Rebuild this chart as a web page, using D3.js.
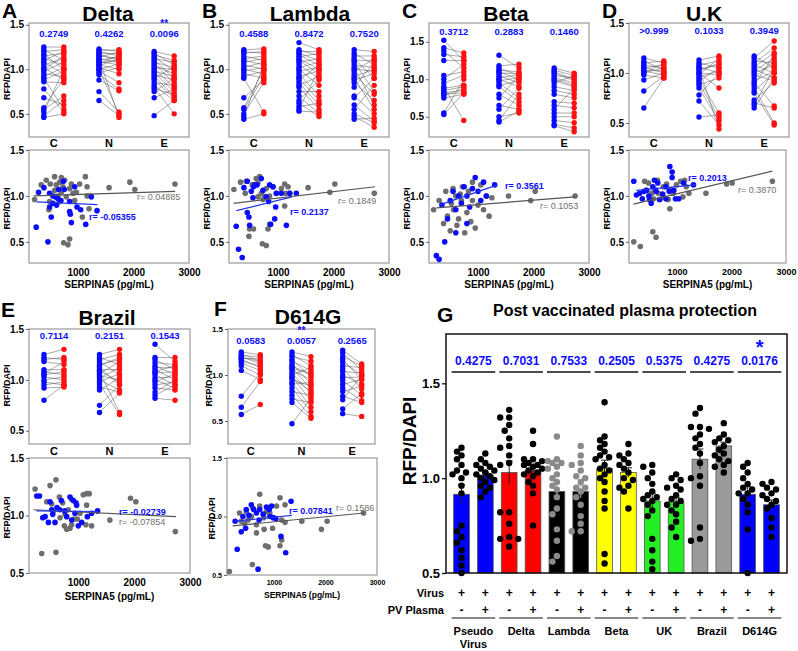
<!DOCTYPE html>
<html><head><meta charset="utf-8">
<script src="https://cdn.jsdelivr.net/npm/d3@7"></script>
<style>body{margin:0;background:#fff}text{font-family:"Liberation Sans",Arial,sans-serif}</style>
</head><body><svg id="c" width="798" height="651"></svg>
<script>
// ---------------- DATA ----------------
const cats = ["C","N","E"];
// paired [blue, red] values per category
const deltaC = [[1.25,1.25],[1.22,1.1],[1.2,1.22],[1.17,1.0],[1.15,1.18],[1.12,1.05],[1.1,1.2],[1.08,0.95],[1.05,1.12],[1.02,0.88],[1.0,1.15],[0.98,1.08],[0.95,0.92],[0.92,1.02],[0.9,0.55],[0.88,0.98],[0.86,0.85],[0.78,0.52],[0.68,0.6],[0.57,0.9],[0.55,0.7],[0.52,1.0],[0.48,0.65],[0.46,0.5]];
const deltaN = [[1.23,1.2],[1.21,1.22],[1.2,1.15],[1.18,1.18],[1.17,1.1],[1.15,1.12],[1.14,1.19],[1.12,1.08],[1.1,1.14],[1.09,1.05],[1.07,1.1],[1.05,1.0],[1.04,1.12],[1.02,0.95],[1.0,1.06],[0.98,0.85],[0.96,1.02],[0.94,0.78],[0.88,0.76],[0.75,0.52],[0.65,0.48],[1.12,0.46],[1.06,1.16],[1.0,0.5]];
const deltaE = [[1.2,1.15],[1.18,1.05],[1.16,1.1],[1.14,0.98],[1.12,1.08],[1.1,0.9],[1.08,1.02],[1.06,0.85],[1.04,0.95],[1.02,1.0],[1.0,0.8],[0.98,0.92],[0.96,0.75],[0.94,0.88],[0.92,0.7],[0.9,1.03],[0.88,0.68],[0.85,0.82],[0.82,0.65],[0.78,0.72],[0.75,0.9],[0.68,0.78],[0.48,0.65],[0.8,0.5]];
const lambdaC = [[1.22,1.23],[1.2,1.18],[1.18,1.2],[1.15,1.1],[1.12,1.15],[1.1,1.05],[1.08,1.12],[1.05,1.0],[1.02,1.08],[1.0,0.95],[0.98,1.02],[0.95,0.9],[0.92,0.98],[0.9,0.52],[0.68,0.88],[0.57,1.0],[0.55,0.92],[0.5,0.85],[0.47,1.05],[0.44,0.5]];
const lambdaN = [[1.3,1.22],[1.22,1.15],[1.2,1.2],[1.18,1.1],[1.16,1.05],[1.14,1.18],[1.12,1.0],[1.1,0.95],[1.08,1.12],[1.05,0.9],[1.02,1.08],[1.0,0.82],[0.98,1.02],[0.95,0.7],[0.92,0.98],[0.9,0.65],[0.88,1.05],[0.85,0.6],[0.82,0.92],[0.8,0.55],[0.75,0.75],[0.7,0.5],[0.65,0.88],[0.62,0.47],[0.58,0.62],[0.55,1.0],[0.53,0.52]];
const lambdaE = [[1.22,1.2],[1.18,1.05],[1.15,1.15],[1.12,0.9],[1.1,1.1],[1.08,0.75],[1.05,1.02],[1.02,0.6],[1.0,0.98],[0.98,1.12],[0.95,0.72],[0.92,1.0],[0.9,0.55],[0.88,0.95],[0.85,0.65],[0.8,1.08],[0.7,0.5],[0.68,0.9],[0.6,0.42],[0.55,0.82],[0.5,0.4],[0.47,0.35],[0.44,0.45]];
const betaC = [[1.52,1.25],[1.42,1.35],[1.38,1.15],[1.33,1.3],[1.25,1.25],[1.05,1.1],[1.0,1.2],[0.95,1.05],[0.88,0.92],[0.85,0.9],[0.82,0.85],[0.8,0.82],[0.78,0.88],[0.75,0.8],[0.55,1.0],[0.53,0.82],[0.9,0.45]];
const betaN = [[1.32,1.15],[1.18,1.2],[1.15,1.05],[1.12,1.1],[1.1,1.0],[1.08,1.08],[1.05,0.95],[1.02,1.06],[1.0,0.9],[0.98,1.02],[0.95,0.75],[0.92,0.98],[0.9,0.7],[0.8,0.65],[0.75,1.05],[0.65,0.6],[0.6,0.88],[0.5,0.55],[0.45,0.8],[0.43,0.58]];
const betaE = [[1.15,1.08],[1.12,1.05],[1.1,1.0],[1.08,0.98],[1.05,1.02],[1.02,0.95],[1.0,0.92],[0.98,0.9],[0.95,1.05],[0.9,0.85],[0.85,0.8],[0.8,0.75],[0.7,0.68],[0.65,0.62],[0.6,0.88],[0.55,0.55],[0.5,0.5],[0.45,0.42],[0.4,0.35],[0.38,0.3]];
const ukC = [[1.15,1.1],[1.1,1.12],[1.08,1.05],[1.06,1.0],[1.05,1.08],[1.03,1.02],[1.02,0.98],[1.0,1.05],[0.98,0.95],[0.93,1.0],[0.82,0.97],[0.65,0.95],[1.12,1.03],[1.0,1.1]];
const ukN = [[1.13,1.17],[1.1,1.05],[1.08,1.12],[1.06,1.0],[1.04,1.08],[1.02,1.1],[1.0,0.98],[0.98,1.15],[0.96,1.02],[0.94,0.6],[0.92,1.05],[0.9,0.55],[0.88,0.95],[0.85,0.52],[0.78,1.0],[0.72,0.48],[0.56,0.58],[1.05,0.44],[1.0,0.85]];
const ukE = [[1.17,1.05],[1.15,1.32],[1.12,1.1],[1.1,1.25],[1.08,1.0],[1.06,1.2],[1.04,0.95],[1.02,1.15],[1.0,1.08],[0.98,0.92],[0.95,1.12],[0.92,1.02],[0.9,0.67],[0.88,1.18],[0.85,0.5],[0.82,1.0],[0.8,0.48],[0.73,0.9],[0.7,0.65],[0.68,1.05],[0.65,0.95]];
const brazilC = [[1.25,1.3],[1.22,1.2],[1.2,1.22],[1.18,1.15],[1.1,1.1],[1.08,1.05],[1.05,1.08],[1.03,1.0],[1.0,1.03],[0.98,0.95],[0.95,0.98],[0.92,0.93],[0.8,0.95],[1.06,1.18]];
const brazilN = [[1.25,1.3],[1.22,1.15],[1.2,1.25],[1.18,1.05],[1.15,1.2],[1.12,0.95],[1.1,1.1],[1.08,0.68],[1.06,1.18],[1.04,1.0],[1.02,1.12],[1.0,0.9],[0.98,1.06],[0.96,0.66],[0.93,0.88],[0.9,1.02],[0.75,0.95],[0.68,0.87],[1.14,1.22],[1.09,0.98]];
const brazilE = [[1.35,1.18],[1.22,1.22],[1.2,1.1],[1.17,1.15],[1.14,1.05],[1.12,1.12],[1.1,1.0],[1.07,1.08],[1.05,0.95],[1.02,1.03],[1.0,0.92],[0.98,1.06],[0.95,0.98],[0.92,0.9],[0.88,1.0],[0.85,0.95],[0.82,0.8],[1.08,1.14]];
const d614gC = [[1.25,1.22],[1.23,1.15],[1.21,1.2],[1.2,1.12],[1.18,1.18],[1.17,1.08],[1.15,1.1],[1.13,1.05],[1.1,1.0],[1.05,0.95],[0.77,1.02],[0.65,0.93],[0.57,0.68],[1.19,1.15]];
const d614gN = [[1.25,1.2],[1.22,1.1],[1.2,1.15],[1.17,0.98],[1.15,1.05],[1.12,0.9],[1.1,1.0],[1.08,0.85],[1.05,0.95],[1.02,0.8],[1.0,1.08],[0.98,0.72],[0.95,0.88],[0.92,0.65],[0.9,0.92],[0.86,0.6],[0.82,0.78],[0.78,0.55],[0.74,0.7],[0.7,0.53],[0.47,0.75],[1.07,1.02],[0.97,0.82]];
const d614gE = [[1.27,1.12],[1.24,1.05],[1.2,1.1],[1.17,0.95],[1.14,1.0],[1.1,1.08],[1.07,0.85],[1.04,1.02],[1.0,0.9],[0.97,0.98],[0.94,0.78],[0.9,0.95],[0.86,0.72],[0.82,0.88],[0.77,0.7],[0.73,1.0],[0.63,0.8],[0.58,0.55]];
const pDelta = ["0.2749","0.4262","0.0096"], sDelta = ["","","**"];
const pLambda = ["0.4588","0.8472","0.7520"];
const pBeta = ["0.3712","0.2883","0.1460"];
const pUK = [">0.999","0.1033","0.3949"];
const pBrazil = ["0.7114","0.2151","0.1543"];
const pD614G = ["0.0583","0.0057","0.2565"], sD614G = ["","**",""];

// scatter: SERPINA5 (pg/mL) vs RFP/DAPI ; grey and blue sets, fitted lines, r values
const deltaGray = [[217,0.96],[337,1.12],[428,1.17],[476,0.85],[488,0.94],[500,1.13],[578,1.21],[608,1.12],[669,1.15],[699,1.2],[729,1.1],[759,1.17],[741,0.49],[819,0.47],[849,0.53],[910,1.03],[940,0.95],[970,1.04],[1078,0.77],[1133,1.21],[1163,1.1],[1163,1.0],[1199,0.86],[1229,1.0],[1560,1.09],[1934,1.15],[2024,1.07],[2747,1.13],[639,1.0],[669,0.94],[789,0.99],[880,1.13],[578,1.06],[849,1.08],[1030,1.13],[699,1.04]];
const deltaBlue = [[247,0.66],[289,1.04],[386,1.09],[458,0.5],[488,0.88],[518,0.77],[548,0.92],[590,0.99],[614,0.9],[651,1.07],[693,0.95],[735,1.16],[753,1.07],[849,0.94],[849,0.83],[861,0.8],[880,0.71],[940,1.1],[982,0.88],[1048,0.85],[1139,0.69],[1343,0.84],[1241,0.99],[548,1.0],[488,1.03],[639,0.97]];
const deltaFit = [[[200,1.0],[2750,1.05]],[[250,0.935],[1350,0.905]]], deltaR = ["0.04885","-0.05355"];
const lambdaGray = [[205,1.07],[325,1.15],[410,1.03],[488,0.64],[476,0.56],[560,0.64],[536,1.12],[608,1.19],[669,1.21],[639,1.14],[699,1.03],[717,0.48],[789,0.46],[819,0.64],[849,0.69],[759,0.99],[729,0.96],[789,1.08],[910,1.1],[970,1.03],[1060,1.08],[1120,1.13],[1139,1.03],[1181,1.1],[1211,1.03],[1120,0.89],[1542,1.09],[1934,1.04],[2024,1.13],[2735,1.03],[639,0.99],[849,1.0],[428,1.16]];
const lambdaBlue = [[247,0.67],[289,0.42],[355,0.33],[386,1.09],[446,1.16],[446,0.82],[476,0.77],[488,0.68],[518,1.05],[548,0.98],[578,1.12],[620,1.12],[699,1.19],[729,1.06],[789,0.99],[831,0.94],[849,1.12],[867,0.69],[910,1.1],[940,0.75],[958,0.88],[970,1.03],[1151,0.68],[1211,1.03],[1331,1.03],[1060,1.03],[560,1.1]];
const lambdaFit = [[[200,0.92],[2750,1.1]],[[250,0.84],[1250,0.99]]], lambdaR = ["0.1849","0.2137"];
const betaGray = [[200,0.85],[300,0.95],[380,0.7],[420,1.05],[450,0.78],[500,0.62],[520,0.92],[560,0.85],[600,1.0],[620,0.68],[650,0.75],[700,0.95],[720,1.1],[760,0.6],[800,0.82],[830,1.05],[870,0.72],[900,0.95],[950,0.65],[1000,0.9],[1050,1.12],[1100,0.85],[1150,1.0],[1200,0.78],[1250,0.98],[1550,1.0],[1950,0.95],[2030,1.05],[2750,1.0],[680,1.02],[550,1.08],[900,1.15]];
const betaBlue = [[250,0.35],[300,0.31],[350,0.9],[400,0.5],[450,0.75],[500,0.95],[550,1.05],[600,0.85],[650,1.0],[700,0.92],[750,1.1],[800,1.0],[850,0.88],[900,1.08],[950,1.2],[1000,1.05],[1050,0.95],[1100,1.15],[1150,1.0],[1300,1.12],[600,0.6],[800,0.7]];
const betaFit = [[[250,0.87],[2750,0.99]],[[300,0.9],[1350,1.12]]], betaR = ["0.1053","0.3561"];
const ukGray = [[205,0.5],[325,0.45],[404,1.16],[476,1.14],[554,0.61],[614,0.55],[536,1.03],[596,1.07],[639,1.17],[687,0.96],[747,1.1],[807,1.13],[837,0.96],[867,0.86],[880,1.07],[928,1.03],[988,1.12],[1066,1.16],[1108,0.99],[1139,1.17],[1169,1.1],[1217,1.03],[1530,1.03],[1910,1.13],[2012,1.14],[2750,1.16],[657,1.03],[747,0.99],[446,1.06],[566,0.97]];
const ukBlue = [[205,1.16],[253,1.01],[313,1.03],[361,0.97],[392,1.05],[434,1.06],[482,1.0],[494,0.96],[524,0.92],[554,1.1],[584,1.17],[614,1.05],[675,0.96],[735,1.02],[795,1.1],[855,1.05],[867,1.32],[909,1.26],[909,1.2],[940,1.06],[970,0.97],[1030,0.97],[1120,1.14],[1301,1.12],[795,0.97],[645,1.14]];
const ukFit = [[[200,0.91],[2750,1.27]],[[250,1.06],[1350,1.12]]], ukR = ["0.3870","0.2013"];
const brazilGray = [[226,1.23],[494,1.26],[600,1.31],[345,0.67],[600,0.68],[661,1.16],[720,1.11],[750,0.91],[792,0.88],[851,0.89],[881,1.14],[923,0.97],[982,0.97],[1089,1.18],[1149,1.19],[1196,1.19],[1137,0.92],[1238,0.91],[1149,1.09],[1565,0.96],[1935,1.15],[2030,1.12],[2738,0.86],[435,1.12],[524,1.1],[673,0.98],[821,1.05],[1030,1.02],[554,1.04],[762,1.01],[881,0.92]];
const brazilBlue = [[256,1.17],[304,1.17],[363,0.98],[405,0.99],[464,0.94],[494,1.12],[542,1.01],[583,0.94],[619,1.07],[667,1.05],[696,1.13],[756,1.04],[851,1.16],[881,0.96],[911,1.13],[958,1.11],[970,1.09],[1000,0.91],[1060,0.94],[1161,0.99],[1238,1.02],[1345,1.04],[524,1.05],[792,0.99],[940,1.02]];
const brazilFit = [[[200,1.05],[2750,0.99]],[[250,1.04],[1350,1.035]]], brazilR = ["-0.07854","-0.02739"];
const d614gGray = [[137,0.53],[725,1.19],[582,0.59],[660,0.93],[725,1.09],[810,0.89],[837,0.75],[889,0.74],[922,1.03],[974,0.9],[1118,1.16],[1118,0.75],[1150,0.8],[1150,0.97],[1216,1.1],[1216,0.95],[1542,0.96],[1922,0.89],[2033,0.96],[2739,1.03],[333,1.03],[464,1.04],[595,1.07],[804,0.99],[856,1.04],[497,0.97],[562,1.0],[660,0.86],[431,0.94],[1052,1.09],[366,0.96]];
const d614gBlue = [[248,0.96],[288,0.72],[366,0.87],[451,0.9],[464,1.06],[516,1.01],[562,1.1],[608,1.06],[660,1.03],[712,0.97],[725,1.06],[791,1.02],[856,1.08],[908,1.06],[954,1.09],[987,0.99],[1039,0.98],[1137,0.83],[1229,0.69],[1333,1.13],[693,0.55],[399,1.0],[922,1.0]];
const d614gFit = [[[200,0.92],[2750,1.03]],[[250,0.96],[1350,1.01]]], d614gR = ["0.1586","0.07841"];

// panel G
const gGroups = ["Pseudo Virus","Delta","Lambda","Beta","UK","Brazil","D614G"];
const gVirus = ["+","+","+","+","+","+","+","+","+","+","+","+","+","+"];
const gPlasma = ["-","+","-","+","-","+","-","+","-","+","-","+","-","+"];
const gMeans = [0.915,1.016,1.03,1.04,0.93,0.93,1.05,1.03,0.88,0.875,1.1,1.17,0.915,0.86];
const gDots = [
 [1.16,1.14,1.12,1.1,1.07,1.04,1.03,1.02,1.0,0.96,0.92,0.75,0.72,0.69,0.66,0.62,0.58,0.54,0.5],
 [1.13,1.1,1.08,1.07,1.06,1.04,1.03,1.02,1.01,1.0,0.98,0.96,0.95,0.93,0.9,1.05,0.99],
 [1.36,1.32,1.32,1.28,1.25,1.21,1.17,1.16,1.12,1.08,1.07,0.82,0.82,0.76,0.69,0.68,0.68,0.64],
 [1.25,1.18,1.1,1.1,1.08,1.07,1.07,1.06,1.05,1.04,1.03,1.01,0.98,0.96,0.92,0.75,1.09,1.02],
 [1.22,1.1,1.09,1.08,1.08,1.06,1.05,1.02,1.0,0.98,0.96,0.94,0.9,0.84,0.81,0.73,0.67,0.59,0.56],
 [1.17,1.12,1.07,1.08,1.04,1.0,0.98,0.95,0.93,0.9,0.86,0.8,0.76,0.72,0.72,0.95,1.01],
 [1.4,1.22,1.2,1.18,1.16,1.14,1.11,1.1,1.07,1.04,1.02,1.0,0.98,0.93,0.88,0.84,0.6,0.55,1.12,1.05],
 [1.18,1.13,1.12,1.1,1.08,1.07,1.05,1.03,1.0,0.99,0.96,0.95,0.93,0.84],
 [1.07,1.06,1.03,1.0,0.97,0.93,0.91,0.9,0.89,0.88,0.86,0.83,0.8,0.68,0.62,0.56,0.52],
 [1.02,1.0,0.99,0.96,0.95,0.94,0.91,0.89,0.88,0.86,0.86,0.83,0.81,0.77,0.74,0.69],
 [1.37,1.34,1.27,1.27,1.26,1.23,1.21,1.18,1.16,1.13,1.08,1.01,1.0,0.96,0.74,0.68,0.67],
 [1.29,1.23,1.21,1.19,1.17,1.15,1.13,1.1,1.09,1.07,1.06,1.03,1.2,1.12],
 [1.08,1.06,1.03,1.0,0.97,0.95,0.94,0.92,0.92,0.89,0.86,0.82,0.73,0.5],
 [0.98,0.97,0.95,0.94,0.92,0.91,0.89,0.88,0.86,0.84,0.79,0.74,0.69]
];
const gP = ["0.4275","0.7031","0.7533","0.2505","0.5375","0.4275","0.0176"];
const gStars = ["","","","","","","*"];
const yTicks = [0.5,1.0,1.5];
const xTicks = [1000,2000,3000];

// ---------------- DRAW ----------------
const svg = d3.select("#c");
const BLUE = "#0b0bff", RED = "#ff1010", GRAY = "#6e6e6e";
const fmt = d3.format(".1f");

function txt(g, x, y, s, o) {
  o = o || {};
  const t = g.append("text").attr("x", x).attr("y", y).text(s)
    .attr("font-size", o.size || 10).attr("font-weight", o.weight || "bold")
    .attr("fill", o.fill || "#000").attr("text-anchor", o.anchor || "middle");
  if (o.rot) t.attr("transform", `rotate(-90,${x},${y})`);
  return t;
}
function styleAxis(a, size) {
  a.select(".domain").remove();
  a.selectAll("line").attr("stroke", "#666");
  a.selectAll("text").attr("font-size", size).attr("font-weight", "bold").attr("fill", "#000")
   .attr("font-family", '"Liberation Sans",Arial,sans-serif');
}

function paired(L, data, pv, stars) {
  const g = svg.append("g");
  const y = d3.scaleLinear().domain(L.dom).range([L.b, L.t]);
  const x = d3.scalePoint().domain(cats).range([L.l, L.r]).padding(0.45);
  g.append("rect").attr("x", L.l).attr("y", L.t).attr("width", L.r - L.l).attr("height", L.b - L.t)
    .attr("fill", "none").attr("stroke", "#999").attr("stroke-width", 1.2);
  g.append("g").attr("transform", `translate(${L.l},0)`)
    .call(d3.axisLeft(y).tickValues(yTicks).tickSize(3).tickPadding(2).tickFormat(fmt))
    .call(a => styleAxis(a, L.tf || 10));
  cats.forEach((c, i) => {
    const cx = x(c), bx = cx - L.off, rx = cx + L.off;
    g.append("g").selectAll("line").data(data[i]).join("line")
      .attr("x1", bx).attr("x2", rx).attr("y1", d => y(d[0])).attr("y2", d => y(d[1]))
      .attr("stroke", "#555").attr("stroke-width", 0.5);
    g.append("g").selectAll("circle").data(data[i]).join("circle")
      .attr("cx", bx).attr("cy", d => y(d[0])).attr("r", 2.7).attr("fill", BLUE);
    g.append("g").selectAll("circle").data(data[i]).join("circle")
      .attr("cx", rx).attr("cy", d => y(d[1])).attr("r", 2.7).attr("fill", RED);
    txt(g, cx, L.pY, pv[i], {size: 9.5, fill: BLUE});
    if (stars && stars[i]) txt(g, cx, L.pY - 10, stars[i], {size: 10, fill: BLUE});
    txt(g, cx, L.cY, c, {size: 11});
  });
  txt(g, L.lx, (L.t + L.b) / 2 - 1, "RFP/DAPI", {size: 9, rot: true});
  txt(g, L.letX, L.letY, L.letter, {size: 21, anchor: "start"});
  txt(g, L.titX, L.titY, L.title, {size: 21});
}

function scatter(L, gray, blue, fit, r) {
  const g = svg.append("g");
  const y = d3.scaleLinear().domain([L.y0, 1.5]).range([L.b, L.t]);
  const x = d3.scaleLinear().domain([L.x0, 3000]).range([L.l, L.r]);
  g.append("rect").attr("x", L.l).attr("y", L.t).attr("width", L.r - L.l).attr("height", L.b - L.t)
    .attr("fill", "none").attr("stroke", "#999").attr("stroke-width", 1.2);
  g.append("g").attr("transform", `translate(${L.l},0)`)
    .call(d3.axisLeft(y).tickValues(yTicks).tickSize(3).tickPadding(2).tickFormat(fmt))
    .call(a => styleAxis(a, L.tf || 10));
  g.append("g").attr("transform", `translate(0,${L.b})`)
    .call(d3.axisBottom(x).tickValues(xTicks).tickSize(0).tickPadding(L.xp || 6).tickFormat(d3.format("d")))
    .call(a => styleAxis(a, L.xf || 10));
  g.append("g").selectAll("circle").data(gray).join("circle")
    .attr("cx", d => x(d[0])).attr("cy", d => y(d[1])).attr("r", 2.8).attr("fill", GRAY);
  g.append("g").selectAll("circle").data(blue).join("circle")
    .attr("cx", d => x(d[0])).attr("cy", d => y(d[1])).attr("r", 2.8).attr("fill", BLUE);
  const ln = d3.line().x(d => x(d[0])).y(d => y(d[1]));
  g.append("path").attr("d", ln(fit[0])).attr("stroke", "#555").attr("stroke-width", 1.2).attr("fill", "none");
  g.append("path").attr("d", ln(fit[1])).attr("stroke", "#2233ee").attr("stroke-width", 1.2).attr("fill", "none");
  txt(g, L.grX, L.grY, "r= " + r[0], {size: 9, fill: "#707070", weight: "normal", anchor: "start"});
  txt(g, L.blX, L.blY, "r= " + r[1], {size: 9, fill: BLUE, anchor: "start"});
  txt(g, L.lx, (L.t + L.b) / 2 + 2, "RFP/DAPI", {size: 9, rot: true});
  txt(g, (L.l + L.r) / 2, L.atY, "SERPINA5 (pg/mL)", {size: L.af || 10});
}

// top row paired panels
const topL = (ox, dom, letter, title, titX) => ({l: ox + 29, r: ox + 189, t: 23, b: 137, dom, off: 10, pY: 37, cY: 147,
  lx: ox + 10, letX: ox + 2, letY: 18, letter, title, titX, titY: 21});
paired(topL(0, [0.24, 1.52], "A", "Delta", 108), [deltaC, deltaN, deltaE], pDelta, sDelta);
paired(topL(200, [0.24, 1.52], "B", "Lambda", 310), [lambdaC, lambdaN, lambdaE], pLambda);
paired(Object.assign(topL(400, [0.23, 1.75], "C", "Beta", 506), {pY: 35}), [betaC, betaN, betaE], pBeta);
paired(Object.assign(topL(600, [0.36, 1.5], "D", "U.K", 704), {pY: 34}), [ukC, ukN, ukE], pUK);
// second row paired panels
paired({l: 29, r: 190, t: 329, b: 444, dom: [0.37, 1.5], off: 10, pY: 339, cY: 455, lx: 10,
  letX: 1, letY: 317, letter: "E", title: "Brazil", titX: 107, titY: 325}, [brazilC, brazilN, brazilE], pBrazil);
paired({l: 228, r: 375, t: 329, b: 444, dom: [0.25, 1.5], off: 9.5, pY: 344, cY: 455, lx: 212, tf: 8,
  letX: 214, letY: 316, letter: "F", title: "D614G", titX: 308, titY: 324}, [d614gC, d614gN, d614gE], pD614G, sD614G);

// scatter panels
const scL = (ox, o) => Object.assign({l: ox + 29, r: ox + 189, t: 150, b: 263, y0: 0.27, x0: 117, lx: ox + 10, atY: 288}, o);
scatter(scL(0, {grX: 137, grY: 200, blX: 89, blY: 220}), deltaGray, deltaBlue, deltaFit, deltaR);
scatter(scL(200, {grX: 338, grY: 204, blX: 290, blY: 215}), lambdaGray, lambdaBlue, lambdaFit, lambdaR);
scatter(scL(400, {grX: 540, grY: 209, blX: 505, blY: 189}), betaGray, betaBlue, betaFit, betaR);
scatter(scL(600, {grX: 738, grY: 193, blX: 688, blY: 181, xf: 9, r: 786}), ukGray, ukBlue, ukFit, ukR);
scatter({l: 29, r: 190, t: 458, b: 573, y0: 0.5, x0: 117, lx: 10, atY: 600, grX: 119, grY: 525, blX: 119, blY: 515},
  brazilGray, brazilBlue, brazilFit, brazilR);
scatter({l: 227, r: 377, t: 458, b: 575, y0: 0.5, x0: 90, lx: 215, atY: 598, af: 8.5, xf: 7, tf: 7, xp: 5,
  grX: 336, grY: 511, blX: 289, blY: 514}, d614gGray, d614gBlue, d614gFit, d614gR);

// ---------------- PANEL G ----------------
(function () {
  const g = svg.append("g");
  const L = {l: 446, r: 787, t: 334, b: 573};
  const y = d3.scaleLinear().domain([0.5, 1.76]).range([L.b, L.t]);
  const x = d3.scaleBand().domain(d3.range(14)).range([L.l, L.r]).paddingInner(0.34).paddingOuter(0.32);
  const colors = ["#0000ff","#0000ff","#ff0000","#ff0000","#000000","#000000","#ffff00","#ffff00","#22ee22","#22ee22","#9a9a9a","#9a9a9a","#0000ff","#0000ff"];
  const bw = x.bandwidth();
  g.selectAll("rect.bar").data(gMeans).join("rect").attr("class", "bar")
    .attr("x", (d, i) => x(i)).attr("width", bw).attr("y", d => y(d)).attr("height", d => y(0.5) - y(d))
    .attr("fill", (d, i) => colors[i]).attr("stroke", "#555").attr("stroke-width", 0.8);
  const rr = 3.2;
  gDots.forEach((vals, i) => {
    const cx = x(i) + bw / 2;
    const pts = vals.map(v => ({v, py: y(v)})).sort((a, b) => a.py - b.py);
    const placed = [];
    pts.forEach(p => {
      const cands = [0, -4.5, 4.5, -9, 9, -2.3, 2.3, -6.8, 6.8];
      let best = cands[0], bestOv = Infinity;
      for (const o of cands) {
        let ov = 0;
        placed.forEach(q => { const dd = Math.hypot(q.px - (cx + o), q.py - p.py); if (dd < 2 * rr * 0.9) ov += 2 * rr * 0.9 - dd; });
        if (ov < bestOv - 1e-9) { bestOv = ov; best = o; }
        if (ov === 0) break;
      }
      p.px = cx + best; placed.push(p);
    });
    const m = gMeans[i], sem = d3.deviation(vals) / Math.sqrt(vals.length);
    const ec = (i === 4 || i === 5) ? "#bbb" : "#222";
    g.append("line").attr("x1", cx).attr("x2", cx).attr("y1", y(m - sem)).attr("y2", y(m + sem)).attr("stroke", ec).attr("stroke-width", 1);
    g.append("line").attr("x1", cx - 3.5).attr("x2", cx + 3.5).attr("y1", y(m + sem)).attr("y2", y(m + sem)).attr("stroke", ec).attr("stroke-width", 1);
    g.append("g").selectAll("circle").data(placed).join("circle")
      .attr("cx", d => d.px).attr("cy", d => d.py).attr("r", rr)
      .attr("fill", (i === 4 || i === 5) ? "#8a8a8a" : "#000");
  });
  g.append("rect").attr("x", L.l).attr("y", L.t).attr("width", L.r - L.l).attr("height", L.b - L.t)
    .attr("fill", "none").attr("stroke", "#111").attr("stroke-width", 1.5);
  g.append("g").attr("transform", `translate(${L.l},0)`)
    .call(d3.axisLeft(y).tickValues(yTicks).tickSize(4).tickPadding(2).tickFormat(fmt))
    .call(a => { styleAxis(a, 13); a.selectAll("line").attr("stroke", "#111").attr("stroke-width", 1.3); });
  txt(g, 416, 441, "RFP/DAPI", {size: 19, rot: true});
  txt(g, 437, 322, "G", {size: 21, anchor: "start"});
  txt(g, 625, 316, "Post vaccinated plasma protection", {size: 16});
  gGroups.forEach((grp, k) => {
    const x1 = x(2 * k) - 2, x2 = x(2 * k + 1) + bw + 2, mid = (x1 + x2) / 2;
    txt(g, mid, 365, gP[k], {size: 12, fill: BLUE});
    if (gStars[k]) txt(g, mid, 354, gStars[k], {size: 20, fill: BLUE});
    g.append("line").attr("x1", x1).attr("x2", x2).attr("y1", 372).attr("y2", 372).attr("stroke", "#111").attr("stroke-width", 1.3);
    g.append("line").attr("x1", x1).attr("x2", x2).attr("y1", 618).attr("y2", 618).attr("stroke", "#111").attr("stroke-width", 1.1);
    const parts = grp.split(" ");
    parts.forEach((s, j) => txt(g, mid, 635 + j * 13, s, {size: 11}));
  });
  d3.range(14).forEach(i => {
    const cx = x(i) + bw / 2;
    txt(g, cx, 597, gVirus[i], {size: 12});
    txt(g, cx, 614, gPlasma[i], {size: 12});
  });
  txt(g, 444, 597, "Virus", {size: 11, anchor: "end"});
  txt(g, 444, 614, "PV Plasma", {size: 11, anchor: "end"});
})();
</script></body></html>
